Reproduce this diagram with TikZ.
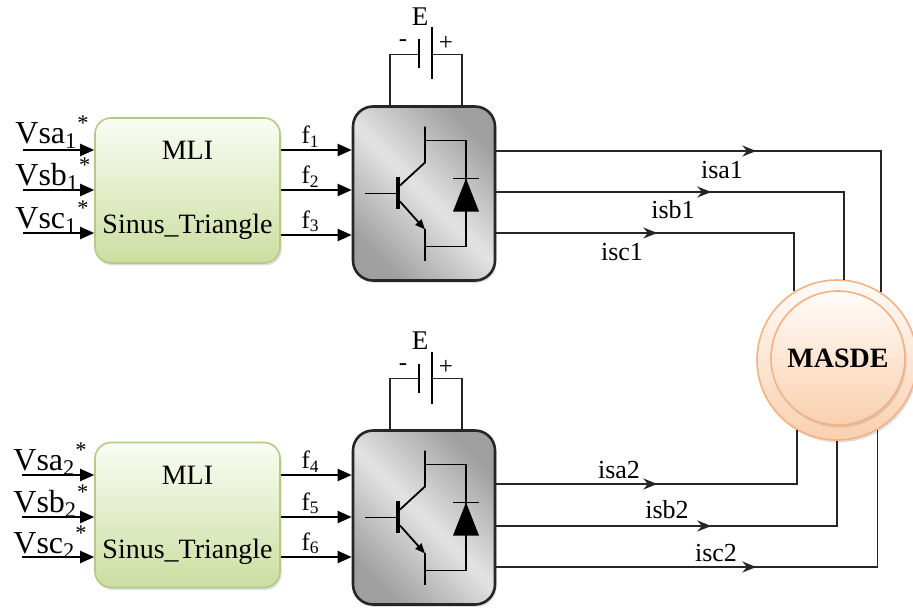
\documentclass[tikz,border=0pt]{standalone}
\usepackage{fontspec}
\setmainfont{Liberation Serif}
\usetikzlibrary{arrows.meta,shadows,decorations.markings}

\definecolor{mliline}{RGB}{178,204,130}
\definecolor{mlitop}{RGB}{250,252,244}
\definecolor{mlibot}{RGB}{204,222,160}
\definecolor{motline}{RGB}{242,178,132}
\definecolor{mottop}{RGB}{255,252,249}
\definecolor{motbot}{RGB}{250,208,174}

\tikzset{
  ombre/.style={drop shadow={opacity=0.25,shadow xshift=0.8pt,shadow yshift=-1.2pt}},
  mli/.style={draw=mliline, line width=0.8pt, rounded corners=8pt,
    minimum width=92.5pt, minimum height=72.5pt, inner sep=2pt,
    top color=mlitop, bottom color=mlibot, ombre,
    align=center, font=\fontsize{14}{37}\selectfont},
  onduleur/.style={draw=black!85, line width=1.3pt, rounded corners=10pt,
    minimum width=71pt, minimum height=87pt,
    top color=gray!75, bottom color=gray!75, middle color=gray!22,
    shading angle=-45, ombre},
  moteur/.style={circle, draw=motline, line width=0.8pt, minimum size=80pt,
    top color=mottop, bottom color=motbot, ombre},
  sig/.style={line width=1pt, -{Triangle[length=7pt,width=6pt]}},
  wire/.style={line width=0.9pt, black!85},
  courant/.style={postaction={decorate}, decoration={markings,
    mark=at position #1 with {\arrow{Stealth[length=7pt,width=5.5pt]}}}},
  lab/.style={font=\fontsize{12.5}{14}\selectfont, inner sep=1pt},
  inlab/.style={font=\fontsize{16}{18}\selectfont, inner sep=0pt},
}

\begin{document}
\begin{tikzpicture}[x=0.5pt, y=-0.5pt]
\useasboundingbox (0,0) rectangle (913,610);

% BLOCKS
	\node[mli] (mli1) at (187.5,190.5) {MLI\\Sinus\_Triangle};
	\node[mli] (mli2) at (187.5,515) {MLI\\Sinus\_Triangle};
	\node[onduleur] (inv1) at (424,193.5) {};
	\node[onduleur] (inv2) at (424,517.5) {};
	\node[moteur] (motor) at (837,360) {};
	\node[moteur, minimum size=67pt, font=\bfseries\fontsize{14}{16}\selectfont] (masde) at (838,358) {MASDE};

% REFERENCES
	\coordinate (ea1) at (23,150);
	\coordinate (eb1) at (23,190);
	\coordinate (ec1) at (23,233);
	\coordinate (ea2) at (22,475);
	\coordinate (eb2) at (22,517);
	\coordinate (ec2) at (22,557);
	\draw[sig] (ea1) -- (ea1 -| mli1.west);
	\draw[sig] (eb1) -- (eb1 -| mli1.west);
	\draw[sig] (ec1) -- (ec1 -| mli1.west);
	\draw[sig] (ea2) -- (ea2 -| mli2.west);
	\draw[sig] (eb2) -- (eb2 -| mli2.west);
	\draw[sig] (ec2) -- (ec2 -| mli2.west);
	\node[inlab, anchor=base west] (vsa1) at (15,143) {Vsa\textsubscript{1}\textsuperscript{*}};
	\node[inlab, anchor=base west] (vsb1) at (15,185) {Vsb\textsubscript{1}\textsuperscript{*}};
	\node[inlab, anchor=base west] (vsc1) at (15,228) {Vsc\textsubscript{1}\textsuperscript{*}};
	\node[inlab, anchor=base west] (vsa2) at (13,470) {Vsa\textsubscript{2}\textsuperscript{*}};
	\node[inlab, anchor=base west] (vsb2) at (13,512) {Vsb\textsubscript{2}\textsuperscript{*}};
	\node[inlab, anchor=base west] (vsc2) at (13,553) {Vsc\textsubscript{2}\textsuperscript{*}};

% PWM SIGNALS
	\draw[sig] (mli1.east |- 0,150) -- (inv1.west |- 0,150) node[lab, above, pos=0.42] (f1) {f\textsubscript{1}};
	\draw[sig] (mli1.east |- 0,190) -- (inv1.west |- 0,190) node[lab, above, pos=0.42] (f2) {f\textsubscript{2}};
	\draw[sig] (mli1.east |- 0,235) -- (inv1.west |- 0,235) node[lab, above, pos=0.42] (f3) {f\textsubscript{3}};
	\draw[sig] (mli2.east |- 0,475) -- (inv2.west |- 0,475) node[lab, above, pos=0.42] (f4) {f\textsubscript{4}};
	\draw[sig] (mli2.east |- 0,517) -- (inv2.west |- 0,517) node[lab, above, pos=0.42] (f5) {f\textsubscript{5}};
	\draw[sig] (mli2.east |- 0,557) -- (inv2.west |- 0,557) node[lab, above, pos=0.42] (f6) {f\textsubscript{6}};

% INVERTER 1
\begin{scope}[shift={(inv1.center)}]
	\draw[line width=0.9pt] (-59,0) -- (-27,0);
	\draw[line width=2.2pt] (-26,-17) -- (-26,15);
	\draw[line width=0.9pt] (-24,-8) -- (1,-31) -- (1,-67);
	\draw[line width=0.9pt, -{Triangle[length=5pt,width=4pt]}] (-24,8) -- (1,36);
	\draw[line width=0.9pt] (1,35) -- (1,67);
	\draw[line width=0.9pt] (1,-53) -| (42,53) -- (1,53);
	\fill (29,18) -- (55,18) -- (42,-15) -- cycle;
	\draw[line width=0.9pt] (29,-15) -- (55,-15);
	\draw[wire] (-34,-87) |- (-5,-139);
	\draw[wire] (8,-139) -| (38,-87);
	\draw[line width=1pt] (-5,-154) -- (-5,-125);
	\draw[line width=1pt] (8,-166) -- (8,-114);
	\node[lab] (moins1) at (-21,-150) {-};
	\node[lab] (plus1) at (22,-150) {+};
	\node[lab, font=\fontsize{13.5}{15}\selectfont] (E1) at (-4,-177) {E};
\end{scope}

% INVERTER 2
\begin{scope}[shift={(inv2.center)}]
	\draw[line width=0.9pt] (-59,0) -- (-27,0);
	\draw[line width=2.2pt] (-26,-17) -- (-26,15);
	\draw[line width=0.9pt] (-24,-8) -- (1,-31) -- (1,-67);
	\draw[line width=0.9pt, -{Triangle[length=5pt,width=4pt]}] (-24,8) -- (1,36);
	\draw[line width=0.9pt] (1,35) -- (1,67);
	\draw[line width=0.9pt] (1,-53) -| (42,53) -- (1,53);
	\fill (29,18) -- (55,18) -- (42,-15) -- cycle;
	\draw[line width=0.9pt] (29,-15) -- (55,-15);
	\draw[wire] (-34,-88) |- (-5,-139);
	\draw[wire] (8,-139) -| (38,-88);
	\draw[line width=1pt] (-5,-154) -- (-5,-125);
	\draw[line width=1pt] (8,-166) -- (8,-114);
	\node[lab] (moins2) at (-21,-150) {-};
	\node[lab] (plus2) at (22,-150) {+};
	\node[lab, font=\fontsize{13.5}{15}\selectfont] (E2) at (-4,-177) {E};
\end{scope}

% STATOR CURRENTS
	\draw[wire, courant=130pt] (inv1.east |- 0,151) -| (motor.57.5);
	\draw[wire, courant=107.5pt] (inv1.east |- 0,192) -| (motor.85.7);
	\draw[wire, courant=80.5pt] (inv1.east |- 0,233) -| (motor.122);
	\draw[wire, courant=80.5pt] (inv2.east |- 0,484) -| (motor.240);
	\draw[wire, courant=107.5pt] (inv2.east |- 0,526) -| (motor.270);
	\draw[wire, courant=130pt] (inv2.east |- 0,567) -| (motor.300);
	\node[lab, font=\fontsize{13}{15}\selectfont, anchor=base] (isa1) at (722,178) {isa1};
	\node[lab, font=\fontsize{13}{15}\selectfont, anchor=base] (isb1) at (673,218) {isb1};
	\node[lab, font=\fontsize{13}{15}\selectfont, anchor=base] (isc1) at (622,260) {isc1};
	\node[lab, font=\fontsize{13}{15}\selectfont, anchor=base] (isa2) at (619,478) {isa2};
	\node[lab, font=\fontsize{13}{15}\selectfont, anchor=base] (isb2) at (667,518) {isb2};
	\node[lab, font=\fontsize{13}{15}\selectfont, anchor=base] (isc2) at (716,561) {isc2};

\end{tikzpicture}
\end{document}
